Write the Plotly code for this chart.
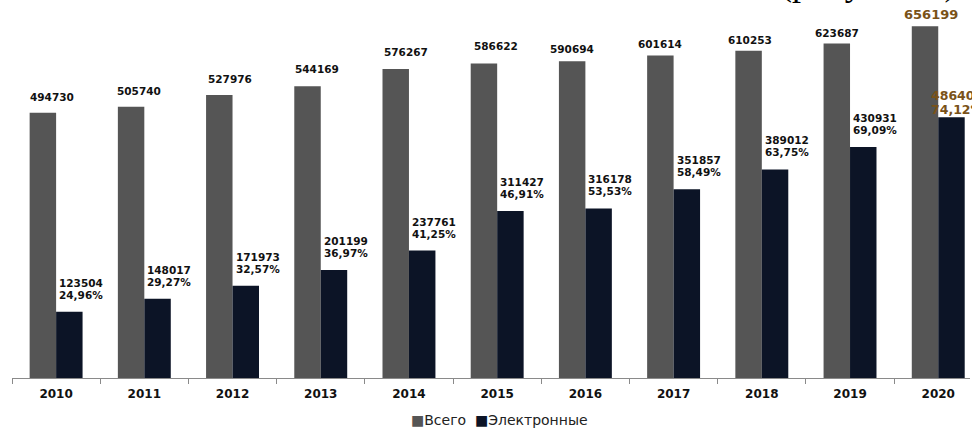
import plotly.graph_objects as go

# Число документов по годам: всего и электронных
years = ["2010", "2011", "2012", "2013", "2014", "2015", "2016", "2017", "2018", "2019", "2020"]
total = [494730, 505740, 527976, 544169, 576267, 586622, 590694, 601614, 610253, 623687, 656199]
electronic = [123504, 148017, 171973, 201199, 237761, 311427, 316178, 351857, 389012, 430931, 486407]
electronic_share = ["24,96%", "29,27%", "32,57%", "36,97%", "41,25%", "46,91%",
                    "53,53%", "58,49%", "63,75%", "69,09%", "74,12%"]

# Label placement tweaks (pixels) for the totals
total_label_dx = [9, 8, 11, 9, 10, 12, 0, 0, 1, 0, 6]
total_label_dy = [16, 16, 16, 17, 17, 17, 12, 11, 11, 11, 12]

GRAY = "#555555"
NAVY = "#0c1426"
BROWN = "#7a5218"
FONT = "DejaVu Sans"
BAR_W = 0.3

fig = go.Figure()
fig.add_trace(go.Bar(x=years, y=total, name="Всего", width=BAR_W, offset=-BAR_W,
                     marker=dict(color=GRAY, line=dict(width=0)), showlegend=False))
fig.add_trace(go.Bar(x=years, y=electronic, name="Электронные", width=BAR_W, offset=0,
                     marker=dict(color=NAVY, line=dict(width=0)), showlegend=False))

annotations = []
last = len(years) - 1
for i, (t, e, p) in enumerate(zip(total, electronic, electronic_share)):
    hl = i == last
    color = BROWN if hl else "#111111"
    size = 12.5 if hl else 10.5
    font = dict(family=FONT, size=size, color=color, weight="bold")
    # total above the grey bar
    annotations.append(dict(
        x=i - BAR_W / 2, y=t, xref="x", yref="y", text=str(t), showarrow=False,
        xanchor="center", yanchor="middle", xshift=total_label_dx[i], yshift=total_label_dy[i],
        font=dict(font, size=13) if hl else font))
    # electronic count and its share, two lines above the dark bar
    line2 = 8 if hl else 17
    step = 14 if hl else 12
    for txt, dy in ((str(e), line2 + step), (p, line2)):
        annotations.append(dict(
            x=i, y=e, xref="x", yref="y", text=txt, showarrow=False,
            xanchor="left", yanchor="middle", align="left",
            xshift=-9 if hl else 1, yshift=dy, font=font))

# Legend drawn as a single centred line under the axis
annotations.append(dict(
    x=0.509, y=-0.111, xref="paper", yref="paper", showarrow=False,
    xanchor="center", yanchor="middle",
    text=f"<span style='color:{GRAY}'>■</span>Всего  <span style='color:{NAVY}'>■</span>Электронные",
    font=dict(family=FONT, size=14, color="#222222")))

# Tail of the caption line above the chart
annotations.append(dict(
    x=(868 - 12) / 958, y=1, xref="paper", yref="paper", showarrow=False,
    xanchor="center", yanchor="bottom", yshift=-5,
    text="(рисунок 1)",
    font=dict(family="Liberation Serif", size=36, color="#000000")))

fig.update_layout(
    width=972, height=430,
    margin=dict(l=12, r=2, t=0, b=52),
    paper_bgcolor="white", plot_bgcolor="white",
    barmode="overlay",
    annotations=annotations,
    xaxis=dict(
        type="category", range=[-0.5, 10.36],
        tickson="boundaries", ticks="outside", ticklen=5, tickcolor="#8a8a8a",
        showline=True, linecolor="#8a8a8a", linewidth=1,
        showgrid=False, zeroline=False, ticklabelstandoff=5,
        tickfont=dict(family=FONT, size=12, color="#111111", weight="bold"),
    ),
    yaxis=dict(range=[0, 705000], visible=False, showgrid=False, zeroline=False),
)

fig.write_html("out.html")
